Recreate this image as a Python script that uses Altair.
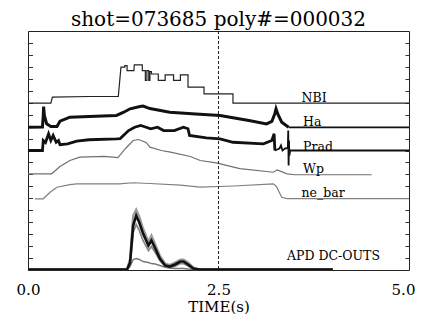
import altair as alt
import pandas as pd

# ---- data (time in s, signal level in stacked display units 0..20) ----
nbi_t = [0, 0.30, 0.32, 0.80, 1.185, 1.22, 1.27, 1.27, 1.30, 1.30, 1.39, 1.395, 1.50, 1.50, 1.54, 1.54, 1.56, 1.56,
         1.585, 1.585, 1.60, 1.60, 1.62, 1.62, 1.71, 1.71, 1.80, 1.80, 1.91, 1.91, 2.00, 2.00, 2.10, 2.10, 2.31, 2.31,
         2.69, 2.69, 5.0]
nbi_u = [13.96, 13.96, 14.46, 14.52, 14.52, 16.97, 16.97, 17.11, 17.11, 16.69, 16.69, 17.17, 17.17, 16.69, 16.69,
         15.86, 15.86, 16.69, 16.69, 15.86, 15.86, 16.61, 16.61, 16.40, 16.40, 15.86, 15.86, 16.33, 16.33, 15.86,
         15.86, 16.33, 16.33, 15.30, 15.30, 14.74, 14.74, 13.96, 13.96]

ha_t = [0, 0.19, 0.20, 0.205, 0.215, 0.245, 0.30, 0.38, 0.42, 0.55, 0.80, 1.16, 1.25, 1.34, 1.47, 1.51, 1.60, 1.86,
        2.20, 2.52, 2.69, 2.90, 3.13, 3.20, 3.24, 3.255, 3.28, 3.33, 3.42]
ha_u = [11.95, 11.97, 12.93, 13.68, 12.93, 12.23, 12.01, 12.01, 12.45, 12.79, 12.85, 12.93, 13.18, 13.49, 13.68,
        13.72, 13.51, 13.21, 13.05, 12.93, 12.74, 12.51, 12.23, 12.43, 13.10, 13.49, 13.01, 12.37, 11.95]
ha_tail_t = [3.42, 5.0]
ha_tail_u = [11.93, 11.93]

prad_t = [0, 0.19, 0.20, 0.23, 0.27, 0.30, 0.33, 0.37, 0.40, 0.42, 0.52, 0.64, 0.80, 1.16, 1.21, 1.32, 1.40, 1.48,
          1.52, 1.61, 1.70, 1.78, 1.92, 2.04, 2.10, 2.12, 2.34, 2.52, 2.69, 3.09, 3.20, 3.23, 3.24]
prad_u = [10.00, 10.00, 10.84, 10.67, 11.40, 10.84, 11.26, 10.69, 10.84, 10.48, 10.56, 10.78, 10.90, 10.98, 11.00,
          11.67, 11.95, 12.09, 12.01, 11.82, 11.95, 11.67, 11.67, 11.95, 11.82, 11.26, 11.06, 10.98, 10.69, 10.56,
          10.84, 11.40, 10.00]
prad_tail_t = [3.24, 3.30, 3.32, 3.34, 3.38, 3.41, 3.415, 3.42, 3.425, 3.43, 3.44, 5.0]
prad_tail_u = [10.00, 10.17, 10.42, 10.00, 10.20, 10.17, 11.67, 8.74, 10.84, 9.58, 10.00, 10.00]

wp_t = [0, 0.31, 0.42, 0.55, 0.68, 1.00, 1.18, 1.28, 1.38, 1.45, 1.55, 1.60, 1.75, 1.87, 2.13, 2.26, 2.47, 2.78,
        3.22, 3.27, 3.40, 3.50, 4.51]
wp_u = [8.05, 8.05, 8.66, 9.16, 9.44, 9.50, 9.41, 10.17, 10.84, 10.92, 10.67, 10.28, 10.00, 9.86, 9.50, 9.16, 8.97,
        8.49, 8.18, 8.38, 8.05, 7.97, 7.97]

ne_t = [0.09, 0.20, 0.29, 0.38, 0.55, 0.64, 1.20, 1.38, 1.60, 2.00, 2.26, 2.70, 3.22, 3.26, 3.33, 3.40, 5.0]
ne_u = [5.96, 5.96, 6.51, 6.93, 7.15, 7.21, 7.21, 7.30, 7.24, 7.11, 6.93, 7.03, 7.21, 6.99, 6.09, 5.98, 5.98]

apd_t = [0, 1.30, 1.34, 1.38, 1.42, 1.46, 1.51, 1.58, 1.62, 1.67, 1.73, 1.80, 1.86, 1.93, 2.00, 2.04, 2.10, 2.17,
         2.25, 4.0]
apd_outer_u = [0.04, 0.04, 0.96, 4.56, 5.06, 4.48, 3.47, 2.38, 2.89, 2.13, 1.21, 0.54, 0.42, 0.63, 0.88, 0.88, 0.63,
               0.21, 0.04, 0.04]
apd_core_u = [0.04, 0.04, 0.63, 3.72, 4.56, 3.97, 3.05, 2.05, 2.47, 1.80, 0.96, 0.38, 0.29, 0.46, 0.71, 0.71, 0.46,
              0.13, 0.04, 0.04]
apd_inner_u = [0.04, 0.04, 0.46, 3.14, 3.81, 3.31, 2.47, 1.63, 1.97, 1.46, 0.79, 0.29, 0.21, 0.33, 0.54, 0.54, 0.33,
               0.08, 0.04, 0.04]
apd_low_u = [0.04, 0.04, 0.29, 0.88, 0.96, 0.88, 0.71, 0.63, 0.54, 0.50, 0.38, 0.23, 0.17, 0.13, 0.13, 0.13, 0.08,
             0.04, 0.04, 0.04]

label_text = ["NBI", "Ha", "Prad", "Wp", "ne_bar", "APD DC-OUTS"]
label_t = [3.59, 3.61, 3.61, 3.61, 3.59, 3.40]
label_u = [14.10, 12.03, 10.00, 8.13, 6.09, 0.85]

marker_t = [2.5]
title_text = "shot=073685 poly#=000032"

# ---- build tables ----
series = [
    ("apd_outer", apd_t, apd_outer_u, "#9a9a9a", 2.2),
    ("apd_inner", apd_t, apd_inner_u, "#8a8a8a", 1.8),
    ("apd_low", apd_t, apd_low_u, "#777777", 1.4),
    ("apd_core", apd_t, apd_core_u, "#111111", 2.6),
    ("ne", ne_t, ne_u, "#808080", 1.2),
    ("wp", wp_t, wp_u, "#707070", 1.2),
    ("prad", prad_t, prad_u, "#111111", 2.8),
    ("prad_tail", prad_tail_t, prad_tail_u, "#111111", 1.8),
    ("ha", ha_t, ha_u, "#111111", 3.0),
    ("ha_tail", ha_tail_t, ha_tail_u, "#111111", 1.8),
    ("nbi", nbi_t, nbi_u, "#222222", 1.2),
]

rows = []
for name, ts, us, _, _ in series:
    for i, (t, u) in enumerate(zip(ts, us)):
        rows.append({"series": name, "t": t, "u": u, "i": i})
df = pd.DataFrame(rows)

FONT = "DejaVu Serif"
xscale = alt.Scale(domain=[0, 5], nice=False, zero=False)
yscale = alt.Scale(domain=[0, 20], nice=False, zero=False)

xaxis = alt.Axis(values=[0, 2.5, 5], format=".1f", ticks=False, domain=False, grid=False,
                 labelFont=FONT, labelFontSize=15, labelColor="black", labelPadding=12,
                 labelFlush=False, labelOverlap=False,
                 labelOffset={"condition": {"test": "datum.value == 5", "value": -6}, "value": 0},
                 title="TIME(s)", titleFont=FONT, titleFontSize=15, titleFontWeight="normal",
                 titleColor="black", titlePadding=2)
yaxis_left = alt.Axis(orient="left", values=list(range(1, 20)), labels=False, ticks=True, tickSize=4,
                      tickColor="#333333", tickWidth=1, offset=-4, domain=False, grid=False, title=None)
yaxis_right = alt.Axis(orient="right", values=list(range(1, 20)), labels=False, ticks=True, tickSize=4,
                       tickColor="#333333", tickWidth=1, offset=-4, domain=False, grid=False, title=None)

base = alt.Chart(df)
layers = []
for name, _, _, color, w in series:
    layers.append(
        base.transform_filter(alt.datum.series == name)
        .mark_line(color=color, strokeWidth=w)
        .encode(
            x=alt.X("t:Q", scale=xscale, axis=xaxis),
            y=alt.Y("u:Q", scale=yscale, axis=yaxis_left),
            order="i:Q",
        )
    )

rule = alt.Chart(pd.DataFrame({"t": marker_t})).mark_rule(
    color="#222222", strokeWidth=1, strokeDash=[3, 2]
).encode(x=alt.X("t:Q", scale=xscale, axis=xaxis))

labels = alt.Chart(pd.DataFrame({"text": label_text, "t": label_t, "u": label_u})).mark_text(
    align="left", baseline="alphabetic", font=FONT, fontSize=12.5, color="black"
).encode(
    x=alt.X("t:Q", scale=xscale, axis=xaxis),
    y=alt.Y("u:Q", scale=yscale, axis=yaxis_right),
    text="text:N",
)

chart = alt.layer(*layers, rule, labels).resolve_axis(y="independent").properties(
    width=381,
    height=239,
    title=alt.TitleParams(title_text, font=FONT, fontSize=20, fontWeight="normal", color="black",
                          anchor="middle", offset=1),
    autosize=alt.AutoSizeParams(type="none"),
    padding={"left": 20, "top": 23, "right": 6, "bottom": 44},
    background="white",
).configure_view(stroke="#222222", strokeWidth=1)

chart.save("out.html", embed_options={"renderer": "svg", "actions": False})
